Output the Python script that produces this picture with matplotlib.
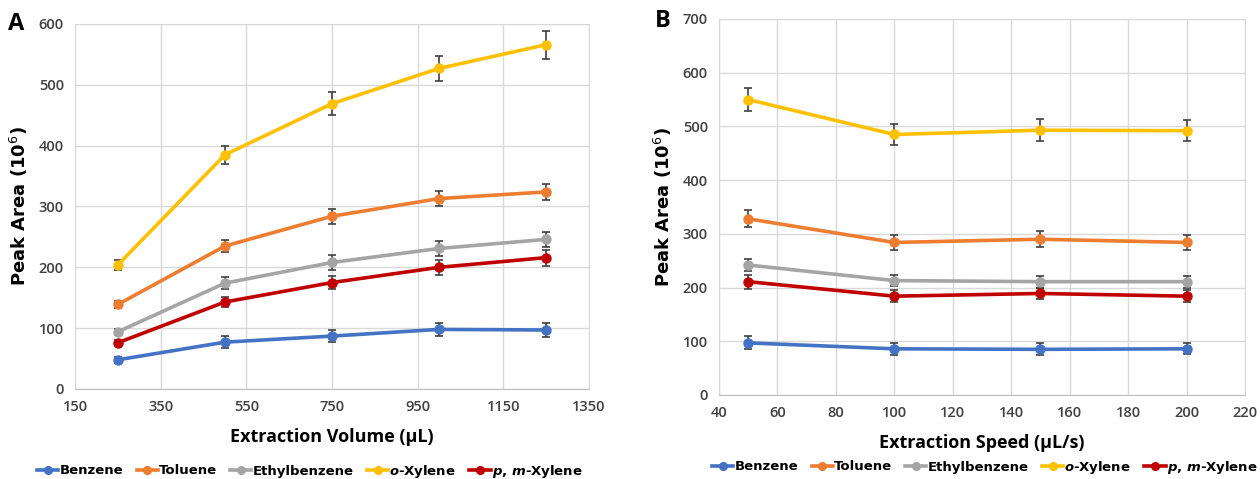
import matplotlib.pyplot as plt

plt.rcParams['font.family'] = ['Open Sans', 'DejaVu Sans']
plt.rcParams['mathtext.fontset'] = 'dejavusans'

names = ['Benzene', 'Toluene', 'Ethylbenzene', r'$\mathbfit{o}$-Xylene',
         r'$\mathbfit{p}$, $\mathbfit{m}$-Xylene']
colors = ['#4472C4', '#ED7D31', '#A5A5A5', '#FFC000', '#C00000']

# panel A: extraction volume
vol = [250, 500, 750, 1000, 1250]
vol_vals = [
    [48, 77, 87, 98, 97],
    [139, 235, 284, 313, 324],
    [94, 174, 208, 231, 246],
    [204, 385, 469, 527, 566],
    [76, 143, 175, 200, 216],
]
vol_err = [
    [5, 10, 10, 11, 11],
    [6, 10, 12, 12, 13],
    [5, 10, 12, 12, 12],
    [8, 15, 19, 21, 23],
    [5, 9, 10, 12, 13],
]

# panel B: extraction speed
speed = [50, 100, 150, 200]
speed_vals = [
    [97, 86, 85, 86],
    [328, 284, 290, 284],
    [242, 213, 211, 211],
    [550, 485, 493, 492],
    [211, 184, 189, 184],
]
speed_err = [
    [12, 11, 11, 10],
    [16, 14, 15, 14],
    [12, 11, 11, 11],
    [22, 20, 20, 20],
    [13, 11, 11, 11],
]

W, H = 1260, 479
fig = plt.figure(figsize=(12.6, 4.79), dpi=100)
axA = fig.add_axes([75 / W, 1 - 389 / H, 514 / W, 365 / H])
axB = fig.add_axes([719 / W, 1 - 395 / H, 526 / W, 376 / H])


def draw(ax, x, vals, errs, xlim, xticks, ylim, yticks, xlabel, leg_xy):
    handles = []
    for v, e, c, n in zip(vals, errs, colors, names):
        ax.errorbar(x, v, yerr=e, fmt='none', ecolor='#404040', elinewidth=1.2,
                    capsize=3, capthick=1.2, zorder=3)
        h, = ax.plot(x, v, color=c, lw=2.6, marker='o', ms=6.5, label=n, zorder=4)
        handles.append(h)
    ax.set_xlim(*xlim)
    ax.set_xticks(xticks)
    ax.set_ylim(*ylim)
    ax.set_yticks(yticks)
    ax.grid(True, color='#d9d9d9', lw=1)
    ax.set_axisbelow(True)
    for s in ax.spines.values():
        s.set_color('#d9d9d9')
    ax.spines['bottom'].set_color('#bfbfbf')
    ax.tick_params(length=0, labelsize=10.5, labelcolor='#404040', pad=8)
    for t in ax.get_xticklabels() + ax.get_yticklabels():
        t.set_fontweight('semibold')
    ax.set_ylabel('Peak Area (10$^6$)', fontsize=13, fontweight='bold',
                  family='DejaVu Sans', labelpad=6)
    ax.set_xlabel(xlabel, fontsize=13, fontweight='bold', labelpad=10)
    fig.legend(handles=handles, loc='center', bbox_to_anchor=leg_xy,
               ncol=5, frameon=False, handlelength=1.6, handletextpad=0.1,
               columnspacing=1.0, borderaxespad=0, markerscale=0.85,
               prop={'weight': 'bold', 'size': 9.5, 'family': 'DejaVu Sans'})


draw(axA, vol, vol_vals, vol_err, (150, 1350), range(150, 1351, 200),
     (0, 600), range(0, 601, 100), 'Extraction Volume (µL)',
     (310 / W, 1 - 471 / H))
draw(axB, speed, speed_vals, speed_err, (40, 220), range(40, 221, 20),
     (0, 700), range(0, 701, 100), 'Extraction Speed (µL/s)',
     (985 / W, 1 - 467 / H))

fig.text(8 / W, 1 - 24 / H, 'A', fontsize=17, fontweight='bold', va='center')
fig.text(655 / W, 1 - 21 / H, 'B', fontsize=17, fontweight='bold', va='center')

fig.savefig('out.png', dpi=100, facecolor='white')
